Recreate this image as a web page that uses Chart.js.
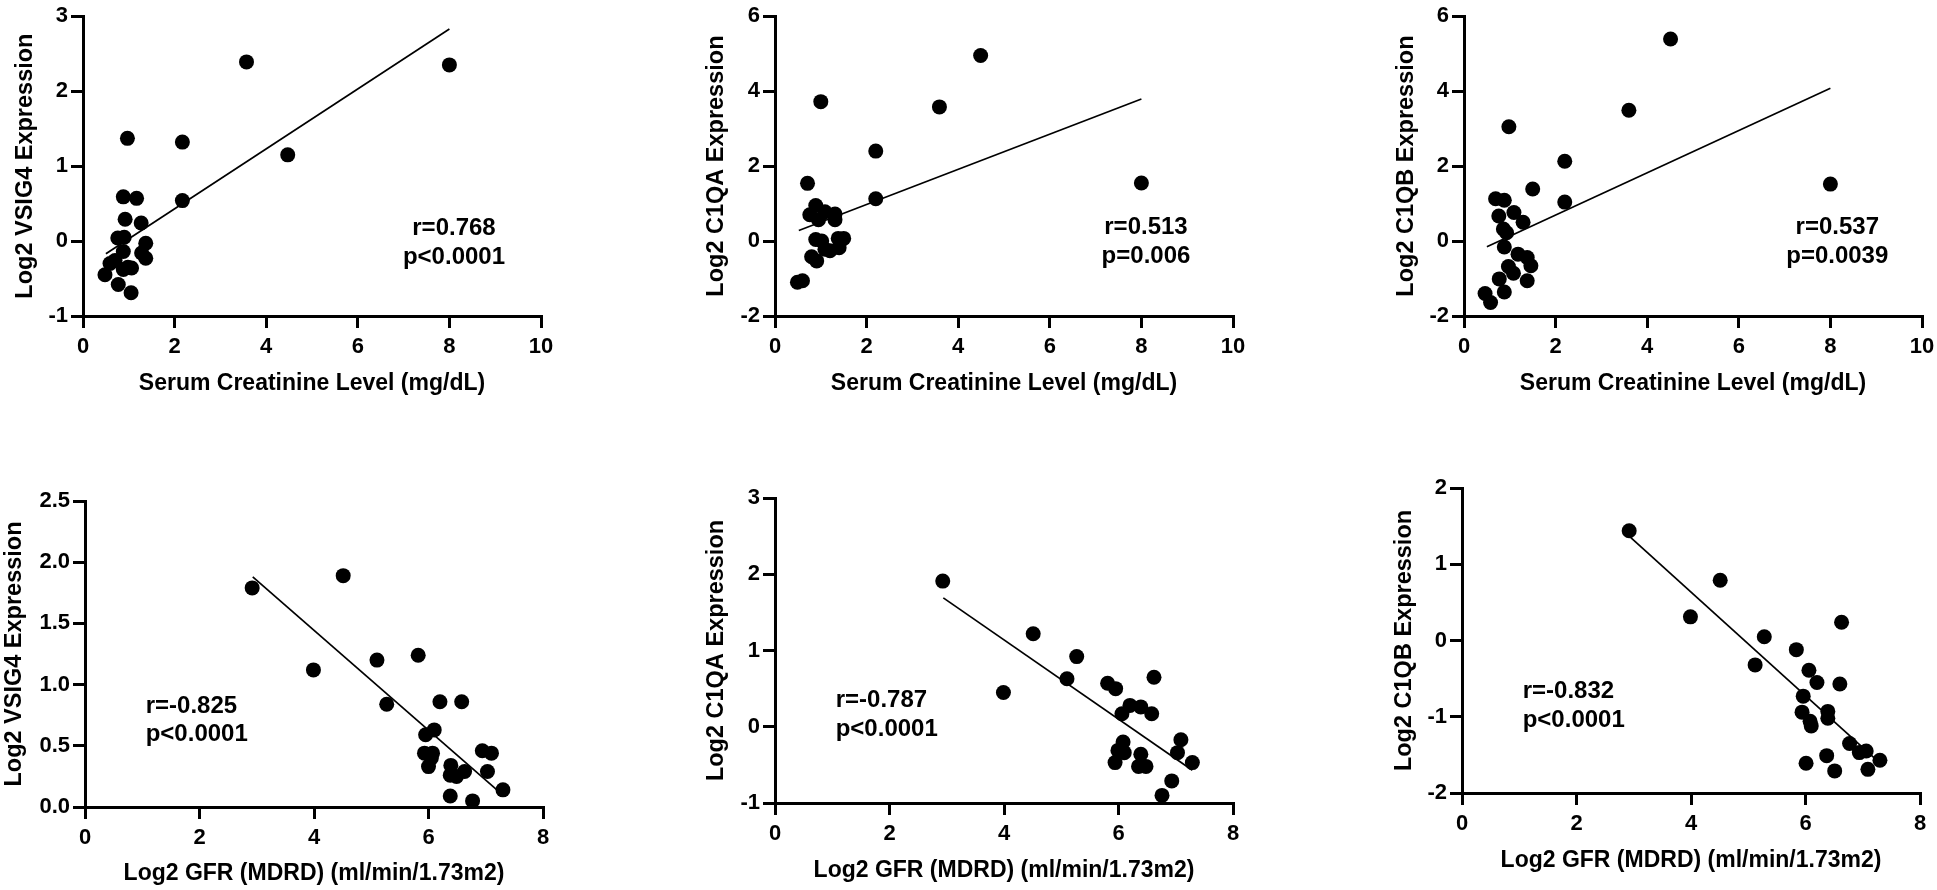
<!DOCTYPE html>
<html>
<head>
<meta charset="utf-8">
<script src="https://cdn.jsdelivr.net/npm/chart.js@4.4.1/dist/chart.umd.min.js"></script>
<style>
  html, body { margin: 0; padding: 0; background: #fff; overflow: hidden; }
  body { width: 1937px; height: 890px; position: relative; }
  .panel { position: absolute; }
</style>
</head>
<body>
<div class="panel" id="p1"><canvas id="c1"></canvas></div>
<div class="panel" id="p2"><canvas id="c2"></canvas></div>
<div class="panel" id="p3"><canvas id="c3"></canvas></div>
<div class="panel" id="p4"><canvas id="c4"></canvas></div>
<div class="panel" id="p5"><canvas id="c5"></canvas></div>
<div class="panel" id="p6"><canvas id="c6"></canvas></div>
<script>
// Serum creatinine vs VSIG4
const creatVsig4X = [0.48, 0.59, 0.70, 0.77, 0.88, 1.06, 1.05, 0.98, 0.88, 0.76, 0.90, 0.92, 0.88, 1.17, 1.27, 1.37, 1.28, 1.37, 0.97, 2.17, 2.17, 3.57, 4.47, 8.0];
const creatVsig4Y = [-0.45, -0.30, -0.26, -0.58, -0.38, -0.36, -0.69, -0.35, -0.14, 0.04, 0.05, 0.29, 0.59, 0.57, 0.24, -0.03, -0.16, -0.23, 1.37, 1.32, 0.54, 2.39, 1.15, 2.35];
const creatVsig4FitX = [0.5, 8.0];
const creatVsig4FitY = [-0.17, 2.83];

// Serum creatinine vs C1QA
const creatC1qaX = [4.49, 1.0, 3.59, 2.2, 0.71, 8.0, 2.2, 0.89, 0.76, 1.09, 0.95, 1.31, 1.31, 0.89, 1.02, 1.09, 1.2, 1.4, 1.38, 1.5, 0.8, 0.91, 0.49, 0.6];
const creatC1qaY = [4.95, 3.72, 3.58, 2.4, 1.54, 1.55, 1.13, 0.95, 0.7, 0.78, 0.57, 0.72, 0.57, 0.04, 0.0, -0.22, -0.26, -0.18, 0.07, 0.07, -0.42, -0.53, -1.1, -1.06];
const creatC1qaFitX = [0.52, 8.0];
const creatC1qaFitY = [0.28, 3.79];

// Serum creatinine vs C1QB
const creatC1qbX = [4.51, 3.6, 0.98, 2.2, 1.5, 8.0, 2.2, 0.69, 0.88, 0.76, 1.09, 1.29, 0.86, 0.93, 0.88, 1.18, 1.38, 1.46, 0.97, 1.08, 0.77, 1.38, 0.88, 0.46, 0.58];
const creatC1qbY = [5.39, 3.49, 3.05, 2.13, 1.39, 1.52, 1.04, 1.13, 1.09, 0.67, 0.76, 0.5, 0.32, 0.22, -0.16, -0.35, -0.44, -0.66, -0.68, -0.86, -1.01, -1.06, -1.36, -1.4, -1.64];
const creatC1qbFitX = [0.5, 8.0];
const creatC1qbFitY = [-0.15, 4.08];

// Log2 GFR vs VSIG4
const gfrVsig4X = [2.92, 4.51, 3.99, 5.1, 5.82, 5.27, 6.2, 6.58, 6.1, 5.95, 5.93, 6.07, 6.05, 6.0, 6.39, 6.38, 6.49, 6.63, 6.94, 7.1, 7.03, 7.3, 6.38, 6.77];
const gfrVsig4Y = [1.79, 1.89, 1.12, 1.2, 1.24, 0.84, 0.86, 0.86, 0.63, 0.59, 0.44, 0.44, 0.4, 0.33, 0.34, 0.26, 0.25, 0.29, 0.46, 0.44, 0.29, 0.14, 0.09, 0.05];
const gfrVsig4FitX = [2.93, 7.22];
const gfrVsig4FitY = [1.88, 0.13];

// Log2 GFR vs C1QA
const gfrC1qaX = [2.93, 4.51, 3.99, 5.27, 5.1, 5.81, 5.95, 6.62, 6.2, 6.39, 6.06, 6.58, 6.08, 5.99, 6.1, 5.94, 6.39, 6.35, 6.48, 7.09, 7.03, 7.29, 6.93, 6.76];
const gfrC1qaY = [1.91, 1.22, 0.45, 0.92, 0.63, 0.57, 0.5, 0.65, 0.28, 0.26, 0.17, 0.17, -0.2, -0.31, -0.34, -0.47, -0.36, -0.52, -0.52, -0.17, -0.34, -0.47, -0.71, -0.9];
const gfrC1qaFitX = [2.94, 7.29];
const gfrC1qaFitY = [1.69, -0.57];

// Log2 GFR vs C1QB
const gfrC1qbX = [2.92, 4.51, 3.99, 5.28, 5.12, 5.84, 6.63, 6.06, 6.2, 6.6, 5.96, 5.94, 6.39, 6.39, 6.08, 6.1, 6.77, 6.94, 7.06, 7.3, 6.37, 6.01, 6.51, 7.09];
const gfrC1qbY = [1.44, 0.79, 0.31, 0.05, -0.32, -0.12, 0.24, -0.39, -0.55, -0.57, -0.73, -0.94, -0.93, -1.02, -1.06, -1.12, -1.35, -1.47, -1.45, -1.57, -1.51, -1.61, -1.71, -1.69];
const gfrC1qbFitX = [2.92, 7.2];
const gfrC1qbFitY = [1.37, -1.54];

// Textos de correlación
const statTexts = [
    ['r=0.768', 'p<0.0001'],
    ['r=0.513', 'p=0.006'],
    ['r=0.537', 'p=0.0039'],
    ['r=-0.825', 'p<0.0001'],
    ['r=-0.787', 'p<0.0001'],
    ['r=-0.832', 'p<0.0001'],
];

const fam = '"Liberation Sans", Arial, Helvetica, sans-serif';
Chart.defaults.font.family = fam;
Chart.defaults.color = '#000';

// Plugin para escribir r y p dentro del gráfico
function notasPlugin(lines, xv, yv, align) {
    return {
        id: 'notas',
        afterDatasetsDraw(chart) {
            const { ctx, scales } = chart;
            ctx.save();
            ctx.font = 'bold 24px ' + fam;
            ctx.fillStyle = '#000';
            ctx.textAlign = align;
            ctx.textBaseline = 'middle';
            lines.forEach((t, i) => {
                ctx.fillText(t, scales.x.getPixelForValue(xv), scales.y.getPixelForValue(yv[i]));
            });
            ctx.restore();
        }
    };
}

function toPts(xs, ys) {
    return xs.map((x, i) => ({ x, y: ys[i] }));
}

function grafico(p) {
    const box = document.getElementById(p.div);
    box.style.left = p.left + 'px';
    box.style.top = p.top + 'px';
    box.style.width = (p.yw + 458 + 30) + 'px';
    box.style.height = p.h + 'px';

    new Chart(document.getElementById(p.canvas), {
        type: 'scatter',
        data: {
            datasets: [
                {
                    data: toPts(p.xs, p.ys),
                    pointRadius: 7.5,
                    pointBackgroundColor: '#000',
                    pointBorderWidth: 0,
                },
                {
                    type: 'line',
                    data: toPts(p.fitX, p.fitY),
                    borderColor: '#000',
                    borderWidth: 1.7,
                    pointRadius: 0,
                    fill: false,
                },
            ],
        },
        options: {
            responsive: true,
            maintainAspectRatio: false,
            animation: false,
            events: [],
            layout: { padding: { top: p.padTop, right: 30, bottom: 0, left: 0 } },
            plugins: { legend: { display: false }, tooltip: { enabled: false } },
            scales: {
                x: {
                    type: 'linear',
                    min: 0,
                    max: p.xMax,
                    ticks: { stepSize: 2, padding: 6, font: { size: 22, weight: 'bold' }, color: '#000' },
                    grid: { drawOnChartArea: false, tickLength: 12, lineWidth: 3, tickWidth: 3, tickColor: '#000' },
                    border: { color: '#000', width: 3 },
                    title: { display: true, text: p.xTitle, color: '#000', font: { size: 23, weight: 'bold' }, padding: { top: 0, bottom: p.xtPad } },
                    afterFit: s => { s.height = p.xh; },
                },
                y: {
                    type: 'linear',
                    min: p.yMin,
                    max: p.yMax,
                    ticks: {
                        stepSize: p.yStep,
                        padding: 3,
                        font: { size: 22, weight: 'bold' },
                        color: '#000',
                        callback: v => p.yDec ? v.toFixed(p.yDec) : v,
                    },
                    grid: { drawOnChartArea: false, tickLength: 12, lineWidth: 3, tickWidth: 3, tickColor: '#000' },
                    border: { color: '#000', width: 3 },
                    title: { display: true, text: p.yTitle, color: '#000', font: { size: 23.5, weight: 'bold' }, padding: { top: p.ytPad, bottom: 0 } },
                    afterFit: s => { s.width = p.yw; },
                },
            },
        },
        plugins: [notasPlugin(p.notes, p.noteX, p.noteY, p.align)],
    });
}

const creatTitle = 'Serum Creatinine Level (mg/dL)';
const gfrTitle = 'Log2 GFR (MDRD) (ml/min/1.73m2)';

grafico({ div: 'p1', canvas: 'c1', left: 0, top: 0, h: 400, yw: 83, padTop: 12, xh: 84, xtPad: 3, ytPad: 11,
    xs: creatVsig4X, ys: creatVsig4Y, fitX: creatVsig4FitX, fitY: creatVsig4FitY,
    xMax: 10, yMin: -1, yMax: 3, yStep: 1, xTitle: creatTitle, yTitle: 'Log2 VSIG4 Expression',
    notes: statTexts[0], noteX: 8.1, noteY: [0.17, -0.22], align: 'center' });

grafico({ div: 'p2', canvas: 'c2', left: 691, top: 0, h: 400, yw: 84, padTop: 12, xh: 84, xtPad: 3, ytPad: 11,
    xs: creatC1qaX, ys: creatC1qaY, fitX: creatC1qaFitX, fitY: creatC1qaFitY,
    xMax: 10, yMin: -2, yMax: 6, yStep: 2, xTitle: creatTitle, yTitle: 'Log2 C1QA Expression',
    notes: statTexts[1], noteX: 8.1, noteY: [0.37, -0.42], align: 'center' });

grafico({ div: 'p3', canvas: 'c3', left: 1381, top: 0, h: 400, yw: 83, padTop: 12, xh: 84, xtPad: 3, ytPad: 11,
    xs: creatC1qbX, ys: creatC1qbY, fitX: creatC1qbFitX, fitY: creatC1qbFitY,
    xMax: 10, yMin: -2, yMax: 6, yStep: 2, xTitle: creatTitle, yTitle: 'Log2 C1QB Expression',
    notes: statTexts[2], noteX: 8.15, noteY: [0.37, -0.42], align: 'center' });

grafico({ div: 'p4', canvas: 'c4', left: 0, top: 430, h: 460, yw: 85, padTop: 71, xh: 83, xtPad: 3, ytPad: 0,
    xs: gfrVsig4X, ys: gfrVsig4Y, fitX: gfrVsig4FitX, fitY: gfrVsig4FitY,
    xMax: 8, yMin: 0, yMax: 2.5, yStep: 0.5, yDec: 1, xTitle: gfrTitle, yTitle: 'Log2 VSIG4 Expression',
    notes: statTexts[3], noteX: 1.06, noteY: [0.82, 0.59], align: 'left' });

grafico({ div: 'p5', canvas: 'c5', left: 691, top: 430, h: 460, yw: 84, padTop: 68, xh: 87, xtPad: 6, ytPad: 11,
    xs: gfrC1qaX, ys: gfrC1qaY, fitX: gfrC1qaFitX, fitY: gfrC1qaFitY,
    xMax: 8, yMin: -1, yMax: 3, yStep: 1, xTitle: gfrTitle, yTitle: 'Log2 C1QA Expression',
    notes: statTexts[4], noteX: 1.06, noteY: [0.34, -0.04], align: 'left' });

grafico({ div: 'p6', canvas: 'c6', left: 1379, top: 430, h: 460, yw: 83, padTop: 58, xh: 97, xtPad: 16, ytPad: 11,
    xs: gfrC1qbX, ys: gfrC1qbY, fitX: gfrC1qbFitX, fitY: gfrC1qbFitY,
    xMax: 8, yMin: -2, yMax: 2, yStep: 1, xTitle: gfrTitle, yTitle: 'Log2 C1QB Expression',
    notes: statTexts[5], noteX: 1.06, noteY: [-0.67, -1.05], align: 'left' });
</script>
</body>
</html>
